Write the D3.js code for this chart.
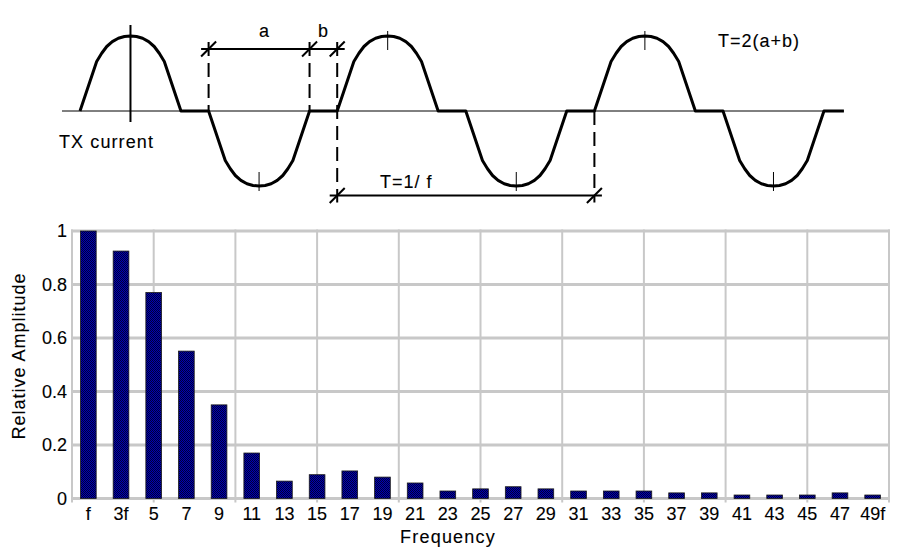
<!DOCTYPE html>
<html>
<head>
<meta charset="utf-8">
<script src="https://cdn.jsdelivr.net/npm/d3@7"></script>
<style>
  body { margin: 0; background: #fff; }
  text { font-family: "Liberation Sans", Arial, sans-serif; fill: #000; stroke: #000; stroke-width: 0.12px; }
</style>
</head>
<body>
<div id="chart"></div>
<script>
// spectrum of the TX current
var harmonics = ["f","3f","5","7","9","11","13","15","17","19","21","23","25",
                 "27","29","31","33","35","37","39","41","43","45","47","49f"];
var amplitudes = [1.0, 0.925, 0.77, 0.551, 0.35, 0.17, 0.065, 0.089, 0.103, 0.08,
                  0.058, 0.028, 0.036, 0.044, 0.036, 0.028, 0.028, 0.028, 0.021,
                  0.021, 0.013, 0.013, 0.013, 0.021, 0.013];
var yTicks = [0, 0.2, 0.4, 0.6, 0.8, 1];

// one pulse of the waveform
// (fraction of the pulse width, fraction of the peak)
var pulseX = [0, 0.165, 0.215, 0.265, 0.32, 0.38, 0.44, 0.5, 0.56, 0.62, 0.68, 0.735, 0.785, 0.835, 1];
var pulseY = [0, 0.66, 0.77, 0.86, 0.925, 0.97, 0.993, 1, 0.993, 0.97, 0.925, 0.86, 0.77, 0.66, 0];
var pulseSigns = [1, -1, 1, -1, 1, -1];
var dutyA = 0.785;   // a, as part of a half period (a + b = 1)

var width = 900, height = 556;

var svg = d3.select("#chart").append("svg")
    .attr("width", width)
    .attr("height", height);

// dithered navy fill like the original bars
var pat = svg.append("defs").append("pattern")
    .attr("id", "dots")
    .attr("width", 2).attr("height", 2)
    .attr("patternUnits", "userSpaceOnUse");
pat.append("rect").attr("width", 2).attr("height", 2).attr("fill", "#0000b4");
pat.append("rect").attr("width", 1).attr("height", 1).attr("fill", "#000038");
pat.append("rect").attr("x", 1).attr("y", 1).attr("width", 1).attr("height", 1).attr("fill", "#000038");

// ---------- top: waveform ----------
var tScale = d3.scaleLinear().domain([0, 1]).range([80, 208.6]);
var aScale = d3.scaleLinear().domain([-1, 1]).range([186, 36]);

var wave = svg.append("g");

// thin zero line
wave.append("line")
    .attr("x1", tScale(-0.14)).attr("x2", tScale(5.94))
    .attr("y1", aScale(0)).attr("y2", aScale(0))
    .attr("stroke", "#000").attr("stroke-width", 1);

var wavePts = [];
pulseSigns.forEach(function(s, k) {
    pulseX.forEach(function(px, i) {
        wavePts.push([k + px * dutyA, s * pulseY[i]]);
    });
});
wavePts.push([5.94, 0]);

var waveLine = d3.line()
    .x(function(d) { return tScale(d[0]); })
    .y(function(d) { return aScale(d[1]); });

wave.append("path")
    .datum(wavePts)
    .attr("d", waveLine)
    .attr("fill", "none")
    .attr("stroke", "#000")
    .attr("stroke-width", 3)
    .attr("stroke-linejoin", "round");

// peak marks
pulseSigns.forEach(function(s, k) {
    var xp = tScale(k + dutyA / 2), yp = aScale(s);
    if (k === 0) {
        wave.append("line")
            .attr("x1", xp).attr("x2", xp)
            .attr("y1", yp - 11).attr("y2", aScale(0) + 11)
            .attr("stroke", "#000").attr("stroke-width", 2);
    } else {
        wave.append("line")
            .attr("x1", xp).attr("x2", xp)
            .attr("y1", yp - 5 * s).attr("y2", yp + 14 * s)
            .attr("stroke", "#000").attr("stroke-width", 1);
    }
});

// dashed guides
var dimY1 = 49, dimY2 = 195.5;
var guides = [[1, dimY1 - 7, aScale(0)], [1 + dutyA, dimY1 - 7, aScale(0)],
              [2, dimY1 - 7, dimY2 + 7], [4, aScale(0), dimY2 + 7]];
guides.forEach(function(g) {
    wave.append("line")
        .attr("x1", tScale(g[0])).attr("x2", tScale(g[0]))
        .attr("y1", g[1]).attr("y2", g[2])
        .attr("stroke", "#000").attr("stroke-width", 2)
        .attr("stroke-dasharray", "14,7");
});

function dimension(t0, t1, y, marks) {
    wave.append("line")
        .attr("x1", tScale(t0) - 7.5).attr("x2", tScale(t1) + 7.5)
        .attr("y1", y).attr("y2", y)
        .attr("stroke", "#000").attr("stroke-width", 2);
    marks.forEach(function(t) {
        wave.append("line")
            .attr("x1", tScale(t) - 7.5).attr("x2", tScale(t) + 7.5)
            .attr("y1", y + 7.5).attr("y2", y - 7.5)
            .attr("stroke", "#000").attr("stroke-width", 2);
    });
}
dimension(1, 2, dimY1, [1, 1 + dutyA, 2]);
dimension(2, 4, dimY2, [2, 4]);

wave.append("text").attr("x", 264).attr("y", 37).attr("text-anchor", "middle")
    .style("font-size", "18px").text("a");
wave.append("text").attr("x", 323).attr("y", 37).attr("text-anchor", "middle")
    .style("font-size", "18px").text("b");
wave.append("text").attr("x", 380).attr("y", 188)
    .style("font-size", "18px").style("letter-spacing", "1px").text("T=1/ f");
wave.append("text").attr("x", 718).attr("y", 47)
    .style("font-size", "18px").style("letter-spacing", "1px").text("T=2(a+b)");
wave.append("text").attr("x", 59).attr("y", 148)
    .style("font-size", "18px").style("letter-spacing", "1.1px").text("TX current");

// ---------- bottom: bar chart ----------
var plotL = 72, plotR = 889, plotT = 231, plotB = 498.5;

var x = d3.scaleBand()
    .domain(harmonics)
    .range([plotL, plotR])
    .paddingInner(0.52)
    .paddingOuter(0.26);

var xGrid = d3.scaleLinear()
    .domain([0, harmonics.length])
    .range([plotL, plotR]);

var y = d3.scaleLinear()
    .domain([0, 1])
    .range([plotB, plotT]);

var grid = svg.append("g");

grid.selectAll(".vgrid")
    .data(d3.range(0, harmonics.length + 0.01, 2.5))
    .enter().append("line")
    .attr("x1", function(d) { return xGrid(d); })
    .attr("x2", function(d) { return xGrid(d); })
    .attr("y1", plotT - 1.5).attr("y2", plotB + 4)
    .attr("stroke", "#c8c8c8").attr("stroke-width", 2);

grid.selectAll(".hgrid")
    .data(yTicks)
    .enter().append("line")
    .attr("x1", plotL - 1).attr("x2", plotR + 1)
    .attr("y1", function(d) { return y(d); })
    .attr("y2", function(d) { return y(d); })
    .attr("stroke", "#c8c8c8").attr("stroke-width", 3);

svg.append("g").selectAll("rect")
    .data(amplitudes)
    .enter().append("rect")
    .attr("x", function(d, i) { return x(harmonics[i]); })
    .attr("width", x.bandwidth())
    .attr("y", function(d) { return y(d); })
    .attr("height", function(d) { return plotB - y(d); })
    .attr("fill", "url(#dots)")
    .attr("stroke", "#1a1a1a")
    .attr("stroke-width", 0.8);

var yAxis = svg.append("g")
    .attr("transform", "translate(" + plotL + ",0)")
    .call(d3.axisLeft(y).tickValues(yTicks).tickFormat(d3.format("")).tickSize(0).tickPadding(5));

var xAxis = svg.append("g")
    .attr("transform", "translate(0," + plotB + ")")
    .call(d3.axisBottom(x).tickSize(0).tickPadding(9));

[yAxis, xAxis].forEach(function(ax) {
    ax.select(".domain").remove();
    ax.selectAll("text")
        .attr("fill", "#000")
        .style("font-family", "'Liberation Sans', Arial, sans-serif")
        .style("font-size", "18px");
});

svg.append("text")
    .attr("x", 448).attr("y", 543)
    .attr("text-anchor", "middle")
    .style("font-size", "18px").style("letter-spacing", "1.2px")
    .text("Frequency");

svg.append("text")
    .attr("transform", "translate(25,356) rotate(-90)")
    .attr("text-anchor", "middle")
    .style("font-size", "18px").style("letter-spacing", "1px")
    .text("Relative Amplitude");
</script>
</body>
</html>
